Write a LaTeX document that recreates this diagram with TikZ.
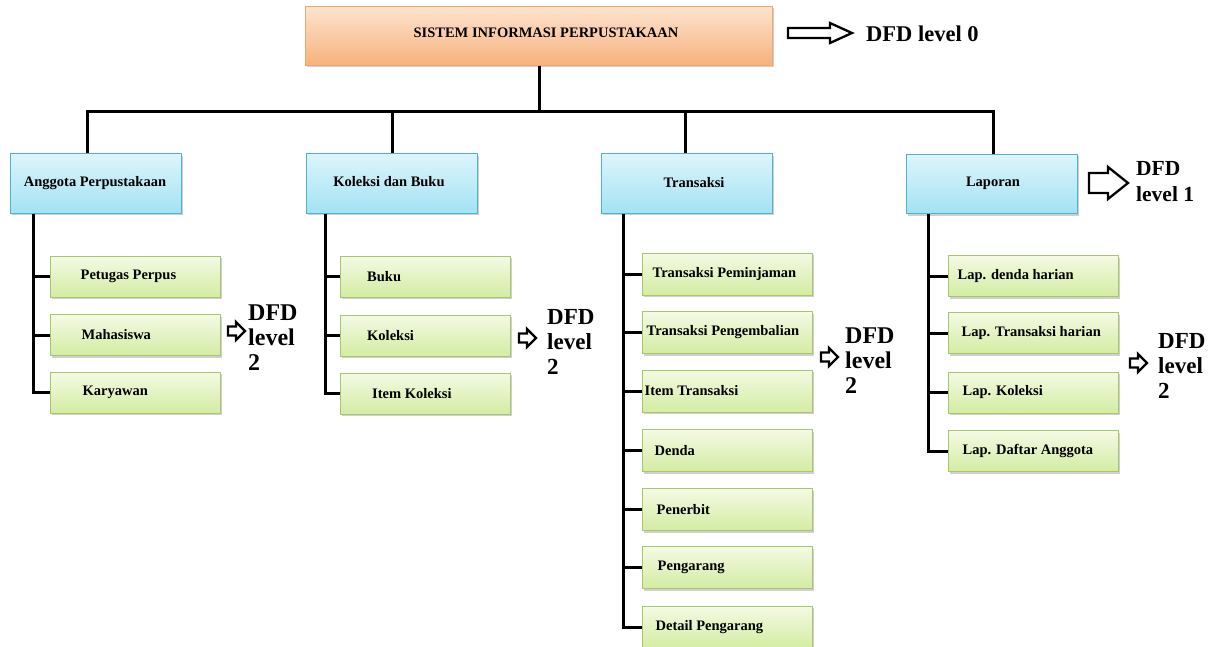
\documentclass[tikz,border=0pt]{standalone}
\usepackage{fontspec}
\setmainfont{Liberation Serif}
\usetikzlibrary{shadows}
\definecolor{orTop}{HTML}{FDE4D0}
\definecolor{orBot}{HTML}{F7B17C}
\definecolor{orBd}{HTML}{F2A66E}
\definecolor{blTop}{HTML}{DDF5FB}
\definecolor{blBot}{HTML}{A3E2F4}
\definecolor{blBd}{HTML}{52B0C9}
\definecolor{grTop}{HTML}{F4FAE4}
\definecolor{grBot}{HTML}{D3ECA2}
\definecolor{grBd}{HTML}{A8C66E}
\newcommand{\hollowarrow}[6]{%
  \draw[arr] (#1,#2-#4) -- (#1+#3-#6,#2-#4) -- (#1+#3-#6,#2-#5) -- (#1+#3,#2)
    -- (#1+#3-#6,#2+#5) -- (#1+#3-#6,#2+#4) -- (#1,#2+#4) -- cycle;}
\begin{document}
\begin{tikzpicture}[x=1pt,y=-1pt,
  conn/.style={line width=3pt, draw=black, line join=miter},
  boxbase/.style={draw, rectangle, inner sep=0pt, line width=1pt,
    drop shadow={shadow xshift=1.5pt, shadow yshift=-2pt, opacity=.3, fill=black!60}},
  topbox/.style={boxbase, draw=orBd, top color=orTop, bottom color=orBot,
    minimum width=467pt, minimum height=59pt},
  lonebox/.style={boxbase, draw=blBd, top color=blTop, bottom color=blBot,
    minimum width=171pt, minimum height=59pt},
  chbox/.style={boxbase, draw=grBd, top color=grTop, bottom color=grBot,
    minimum width=170pt, minimum height=41pt},
  btext/.style={font=\bfseries\fontsize{14.5}{16}\selectfont, inner sep=0pt},
  ctext/.style={btext, anchor=west},
  dfd/.style={font=\bfseries\fontsize{23}{25}\selectfont, align=left, inner sep=0pt, anchor=west},
  arr/.style={draw=black, line width=2.3pt, fill=white, line join=miter}
]
\fill[white] (0,0) rectangle (1220,647);
\useasboundingbox (0,0) rectangle (1220,647);

% top
\node[topbox] (top) at (539,36) {};
\node[btext] (ttop) at (546,33) {SISTEM INFORMASI PERPUSTAKAAN};
\hollowarrow{788}{33}{64}{5}{10}{22}
\node[anchor=west, inner sep=0pt, font=\bfseries\fontsize{22.5}{24}\selectfont] (dfd0) at (866,34) {DFD level 0};

% level 1
\node[lonebox] (anggota) at (96,183.5) {};
\node[btext] (tanggota) at (95,183) {Anggota Perpustakaan};
\node[lonebox] (koleksi) at (392,183.5) {};
\node[btext] (tkoleksi) at (389,182) {Koleksi dan Buku};
\node[lonebox] (transaksi) at (687,183.5) {};
\node[btext] (ttransaksi) at (694,183) {Transaksi};
\node[lonebox] (laporan) at (992,184) {};
\node[btext] (tlaporan) at (993,183) {Laporan};
\hollowarrow{1089}{183}{39}{10}{16}{20}
\node[dfd, font=\bfseries\fontsize{21.5}{26}\selectfont] (dfd1) at (1136,182) {DFD\\level 1};

% bus
\coordinate (dA) at (87,112);
\coordinate (dK) at (392,112);
\coordinate (dT) at (685,112);
\coordinate (dL) at (993,112);
\draw[conn] (top.south) -- (top.south |- dA);
\draw[conn] (anggota.north -| dA) -- (dA) -- (dL) -- (laporan.north -| dL);
\draw[conn] (dK) -- (koleksi.north -| dK);
\draw[conn] (dT) -- (transaksi.north -| dT);

% Anggota children
\node[chbox] (petugas) at (135,276.5) {};
\node[chbox] (mahasiswa) at (135,335) {};
\node[chbox] (karyawan) at (135,392.5) {};
\node[ctext] (tpetugas) at ([xshift=31pt]petugas.west) {Petugas Perpus};
\node[ctext] (tmahasiswa) at ([xshift=32pt]mahasiswa.west) {Mahasiswa};
\node[ctext] (tkaryawan) at ([xshift=33pt]karyawan.west) {Karyawan};
\coordinate (vA) at (33,0);
\draw[conn] (anggota.south -| vA) -- (karyawan.west -| vA) -- (karyawan.west);
\draw[conn] (petugas.west -| vA) -- (petugas.west);
\draw[conn] (mahasiswa.west -| vA) -- (mahasiswa.west);
\hollowarrow{228}{331}{17}{4.5}{9}{9}
\node[dfd, font=\bfseries\fontsize{24}{25}\selectfont] (dfdA) at (248,338) {DFD\\level\\2};

% Koleksi children
\node[chbox] (buku) at (425.5,276.5) {};
\node[chbox] (kkoleksi) at (425.5,335.5) {};
\node[chbox] (itemkol) at (425.5,393.5) {};
\node[ctext] (tbuku) at ([xshift=27pt]buku.west) {Buku};
\node[ctext] (tkkoleksi) at ([xshift=27pt]kkoleksi.west) {Koleksi};
\node[ctext] (titemkol) at ([xshift=32pt]itemkol.west) {Item Koleksi};
\coordinate (vK) at (325,0);
\draw[conn] (koleksi.south -| vK) -- (itemkol.west -| vK) -- (itemkol.west);
\draw[conn] (buku.west -| vK) -- (buku.west);
\draw[conn] (kkoleksi.west -| vK) -- (kkoleksi.west);
\hollowarrow{519}{338}{17}{4.5}{9}{9}
\node[dfd] (dfdK) at (547,342) {DFD\\level\\2};

% Transaksi children
\node[chbox, minimum height=42pt] (pinjam) at (727,274) {};
\node[chbox, minimum height=42pt] (kembali) at (727,332.5) {};
\node[chbox, minimum height=42pt] (itemtr) at (727,391) {};
\node[chbox, minimum height=42pt] (denda) at (727,450.5) {};
\node[chbox, minimum height=42pt] (penerbit) at (727,509.5) {};
\node[chbox, minimum height=42pt] (pengarang) at (727,567.5) {};
\node[chbox, minimum height=42pt] (detailp) at (727,627) {};
\node[ctext] (tpinjam) at ([xshift=11pt]pinjam.west) {Transaksi Peminjaman};
\node[ctext] (tkembali) at ([xshift=5pt]kembali.west) {Transaksi Pengembalian};
\node[ctext] (titemtr) at ([xshift=3pt]itemtr.west) {Item Transaksi};
\node[ctext] (tdenda) at ([xshift=13pt]denda.west) {Denda};
\node[ctext] (tpenerbit) at ([xshift=15pt]penerbit.west) {Penerbit};
\node[ctext] (tpengarang) at ([xshift=16pt]pengarang.west) {Pengarang};
\node[ctext] (tdetailp) at ([xshift=14pt]detailp.west) {Detail Pengarang};
\coordinate (vT) at (623,0);
\draw[conn] (transaksi.south -| vT) -- (detailp.west -| vT) -- (detailp.west);
\foreach \n in {pinjam,kembali,itemtr,denda,penerbit,pengarang}
  \draw[conn] (\n.west -| vT) -- (\n.west);
\hollowarrow{821}{357}{17}{4.5}{9}{9}
\node[dfd, font=\bfseries\fontsize{24}{25}\selectfont] (dfdT) at (845,361) {DFD\\level\\2};

% Laporan children
\node[chbox] (ldenda) at (1033,276) {};
\node[chbox] (ltrans) at (1033,333) {};
\node[chbox] (lkoleksi) at (1033,392.5) {};
\node[chbox] (langgota) at (1033,451) {};
\node[ctext] (tldenda) at ([xshift=10pt]ldenda.west) {Lap. denda harian};
\node[ctext] (tltrans) at ([xshift=14pt]ltrans.west) {Lap. Transaksi harian};
\node[ctext] (tlkoleksi) at ([xshift=15pt]lkoleksi.west) {Lap. Koleksi};
\node[ctext] (tlanggota) at ([xshift=15pt]langgota.west) {Lap. Daftar Anggota};
\coordinate (vL) at (928,0);
\draw[conn] (laporan.south -| vL) -- (langgota.west -| vL) -- (langgota.west);
\foreach \n in {ldenda,ltrans,lkoleksi}
  \draw[conn] (\n.west -| vL) -- (\n.west);
\hollowarrow{1130}{363}{17}{4.5}{9}{9}
\node[dfd] (dfdL) at (1158,366) {DFD\\level\\2};
\end{tikzpicture}
\end{document}
